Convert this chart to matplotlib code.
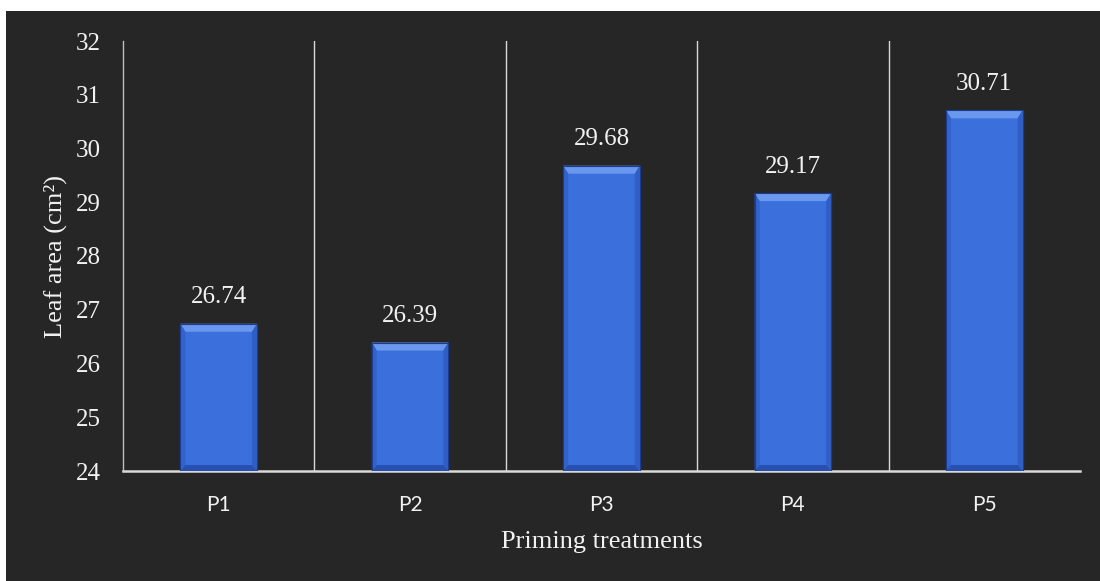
import matplotlib
matplotlib.use("Agg")
import matplotlib.pyplot as plt
from matplotlib.patches import Polygon, Rectangle

treatments = ["P1", "P2", "P3", "P4", "P5"]
leaf_area = [26.74, 26.39, 29.68, 29.17, 30.71]
y_ticks = [24, 25, 26, 27, 28, 29, 30, 31, 32]

BG = "#262626"
TXT = "#f2f2f2"
SERIF = ["Liberation Serif", "DejaVu Serif"]
SANS = ["Lato", "DejaVu Sans"]

fig = plt.figure(figsize=(11, 5.81), dpi=100)
fig.patch.set_facecolor("white")
fig.add_artist(Rectangle((6 / 1100, 0), 1 - 6 / 1100, (581 - 11) / 581,
                         transform=fig.transFigure, facecolor=BG,
                         edgecolor="none", zorder=-10))

ax = fig.add_axes([123 / 1100, (581 - 471) / 581,
                   (1080 - 123) / 1100, (471 - 41) / 581])
ax.set_facecolor(BG)

x = list(range(len(treatments)))
bars = ax.bar(x, [v - y_ticks[0] for v in leaf_area], bottom=y_ticks[0],
              width=0.4, color="#3a6fdc", edgecolor="#1d3c8f",
              linewidth=0.8, zorder=3)

# bevel shading on every bar, derived from the bar geometry
ppu_y = 430 / (y_ticks[-1] - y_ticks[0])   # pixels per data unit (y)
ppu_x = 957 / len(treatments)              # pixels per data unit (x)
bt = 8 / ppu_y     # top bevel depth
bb = 6 / ppu_y     # bottom bevel depth
s = 5 / ppu_x      # side bevel width
for p in bars.patches:
    x0 = p.get_x()
    x1 = x0 + p.get_width()
    y0 = p.get_y()
    y1 = y0 + p.get_height()
    shapes = [
        ([(x0, y1), (x1, y1), (x1 - s, y1 - bt), (x0 + s, y1 - bt)], "#6a98ee"),
        ([(x0, y1), (x0 + s, y1 - bt), (x0 + s, y0 + bb), (x0, y0)], "#3263cc"),
        ([(x1, y1), (x1 - s, y1 - bt), (x1 - s, y0 + bb), (x1, y0)], "#2f5ec4"),
        ([(x0, y0), (x1, y0), (x1 - s, y0 + bb), (x0 + s, y0 + bb)], "#2750b0"),
    ]
    for pts, col in shapes:
        ax.add_patch(Polygon(pts, closed=True, facecolor=col,
                             edgecolor="none", zorder=4))
    ax.add_patch(Rectangle((x0, y0), x1 - x0, y1 - y0, facecolor="none",
                           edgecolor="#1d3c8f", linewidth=0.8, zorder=5))

for xi, v in zip(x, leaf_area):
    ax.annotate(f"{v:.2f}", (xi, v), xytext=(0, 11), textcoords="offset points",
                ha="center", va="bottom", color=TXT, fontsize=18,
                family=SERIF, zorder=6)

ax.set_xlim(-0.5, len(treatments) - 0.5)
ax.set_ylim(y_ticks[0], y_ticks[-1])
ax.set_yticks(y_ticks)
ax.set_yticklabels([str(t) for t in y_ticks], family=SERIF, fontsize=18, color=TXT)
ax.set_xticks(x)
ax.set_xticklabels(treatments, family=SANS, fontsize=15, color=TXT)
ax.set_xticks([i + 0.5 for i in x[:-1]], minor=True)
ax.tick_params(axis="both", which="both", length=0)
ax.tick_params(axis="y", pad=16)
ax.tick_params(axis="x", pad=17)
ax.grid(which="minor", axis="x", color="#d9d9d9", linewidth=1.0, zorder=1)

for side in ("top", "right"):
    ax.spines[side].set_visible(False)
ax.spines["left"].set_color("#bfbfbf")
ax.spines["left"].set_linewidth(1.0)
ax.spines["bottom"].set_color("#d9d9d9")
ax.spines["bottom"].set_linewidth(1.8)

ax.set_ylabel("Leaf area (cm²)", family=SERIF, fontsize=19, color=TXT, labelpad=6)
ax.set_xlabel("Priming treatments", family=SERIF, fontsize=19, color=TXT, labelpad=12)

fig.savefig("out.png", dpi=100, facecolor=fig.get_facecolor())
